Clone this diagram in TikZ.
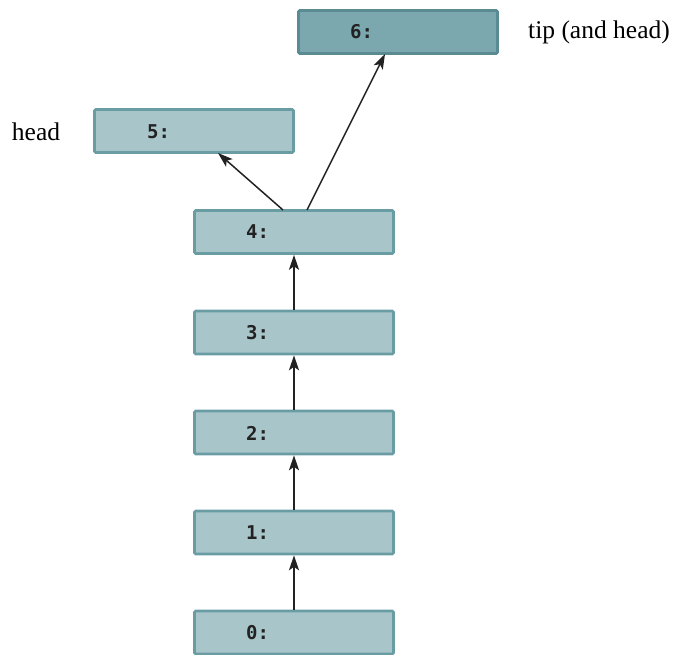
\documentclass[tikz,border=0pt]{standalone}
\usepackage{fontspec}
\setmainfont{Liberation Serif}
\newfontfamily\boxmono{DejaVu Sans Mono}
\usetikzlibrary{arrows.meta}
\definecolor{boxfill}{HTML}{A8C5CA}
\definecolor{boxdraw}{HTML}{6A9CA4}
\definecolor{tipfill}{HTML}{7BA8AF}
\definecolor{tipdraw}{HTML}{5A8A92}
\definecolor{ink}{HTML}{222222}
\tikzset{
  cell/.style={draw=boxdraw, fill=boxfill, line width=2.6pt, rounded corners=1.2pt,
    minimum width=199pt, minimum height=43pt, inner sep=0pt},
  tipcell/.style={cell, draw=tipdraw, fill=tipfill},
  lbl/.style={font=\boxmono\bfseries\fontsize{19}{21}\selectfont, text=ink, anchor=west, inner sep=0pt},
  side/.style={font=\fontsize{25.5}{28}\selectfont, inner sep=0pt},
  link/.style={-{Stealth[length=15pt,width=10pt,inset=3.5pt]}, line width=1.5pt, ink}
}
\begin{document}
\begin{tikzpicture}[x=1pt,y=-1pt]
\useasboundingbox (0,0) rectangle (673,655);
\node[cell] (b0) at (294,632.5) {};
\node[cell] (b1) at (294,532.5) {};
\node[cell] (b2) at (294,432.5) {};
\node[cell] (b3) at (294,332.5) {};
\node[cell] (b4) at (294,232) {};
\node[cell] (b5) at (194,131) {};
\node[tipcell] (b6) at (398,32) {};
\node[lbl] (t0) at (246,633) {0:};
\node[lbl] (t1) at (246,533) {1:};
\node[lbl] (t2) at (246,433) {2:};
\node[lbl] (t3) at (246,333) {3:};
\node[lbl] (t4) at (246,232) {4:};
\node[lbl] (t5) at (147,132) {5:};
\node[lbl] (t6) at (350,32) {6:};
\node[side] (head) at (36,132) {head};
\node[side] (tip) at (599,32) {tip (and head)};
\coordinate (s4a) at (283,210);
\coordinate (s4b) at (307,210);
\coordinate (e5) at (218,153);
\coordinate (e6) at (385,54);
\draw[link] (b0.north) -- (b1.south);
\draw[link] (b1.north) -- (b2.south);
\draw[link] (b2.north) -- (b3.south);
\draw[link] (b3.north) -- (b4.south);
\draw[link] (s4a) -- (e5);
\draw[link] (s4b) -- (e6);
\end{tikzpicture}
\end{document}
